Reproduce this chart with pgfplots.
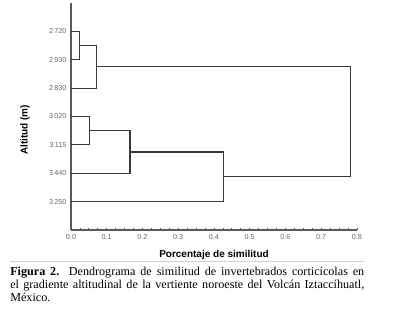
\documentclass[border=0pt]{standalone}
\usepackage{pgfplots}
\pgfplotsset{compat=1.18}
\usepackage{fontspec}
\setmainfont{Liberation Sans}
\newfontfamily\capfont{Liberation Serif}
\definecolor{axgray}{HTML}{5A5A5A}
\definecolor{tickgray}{HTML}{666666}
\definecolor{dendro}{HTML}{3A3A3A}
\definecolor{sepgray}{HTML}{D0D0D0}
\begin{document}
\begin{tikzpicture}
\path[use as bounding box] (0pt,0pt) rectangle (300pt,234pt);
\begin{axis}[
 at={(53.25pt,61.5pt)}, anchor=south west,
 scale only axis, width=214.5pt, height=170.25pt,
 xmin=0, xmax=0.8, ymin=0, ymax=8,
 axis x line*=bottom, axis y line*=left,
 axis line style={axgray, line width=0.8pt, -},
 xtick={0,0.1,0.2,0.3,0.4,0.5,0.6,0.7,0.8},
 xticklabels={0.0,0.1,0.2,0.3,0.4,0.5,0.6,0.7,0.8},
 minor x tick num=3,
 tick align=inside,
 major tick length=1.5pt, minor tick length=1.5pt,
 x tick style={axgray, line width=0.6pt},
 ytick={1,2,3,4,5,6,7},
 yticklabels={3\,250,3\,440,3\,115,3\,020,2\,830,2\,930,2\,720},
 y tick style={draw=none},
 ticklabel style={font=\fontsize{5.4}{6}\selectfont, text=tickgray},
 clip=false,
]
\addplot[dendro, line width=0.8pt] coordinates {(0,7) (0.025,7) (0.025,6) (0,6)};
\addplot[dendro, line width=0.8pt] coordinates {(0.025,6.5) (0.072,6.5) (0.072,5) (0,5)};
\addplot[dendro, line width=0.8pt] coordinates {(0,4) (0.051,4) (0.051,3) (0,3)};
\addplot[dendro, line width=0.8pt] coordinates {(0.051,3.5) (0.165,3.5) (0.165,2) (0,2)};
\addplot[dendro, line width=0.8pt] coordinates {(0.165,2.75) (0.427,2.75) (0.427,1) (0,1)};
\addplot[dendro, line width=0.8pt] coordinates {(0.072,5.75) (0.783,5.75) (0.783,1.875) (0.427,1.875)};
\end{axis}
\node[rotate=90, font=\bfseries\fontsize{7.5}{9}\selectfont] at (18.75pt,136.5pt) {Altitud (m)};
\node[font=\bfseries\fontsize{7.5}{9}\selectfont] at (160.5pt,42.75pt) {Porcentaje de similitud};
\draw[sepgray, line width=0.6pt] (7.5pt,38.25pt) -- (273pt,38.25pt);
\node[anchor=base west, inner sep=0pt, text width=265.5pt, align=justify,
 font=\capfont\fontsize{9.1}{9.75}\selectfont] at (7.5pt,27.75pt)
 {\hyphenpenalty=10000 \textbf{Figura 2.} Dendrograma de similitud de invertebrados corticícolas en\linebreak el gradiente altitudinal de la vertiente noroeste del Volcán Iztaccíhuatl,\linebreak México.};
\end{tikzpicture}
\end{document}
